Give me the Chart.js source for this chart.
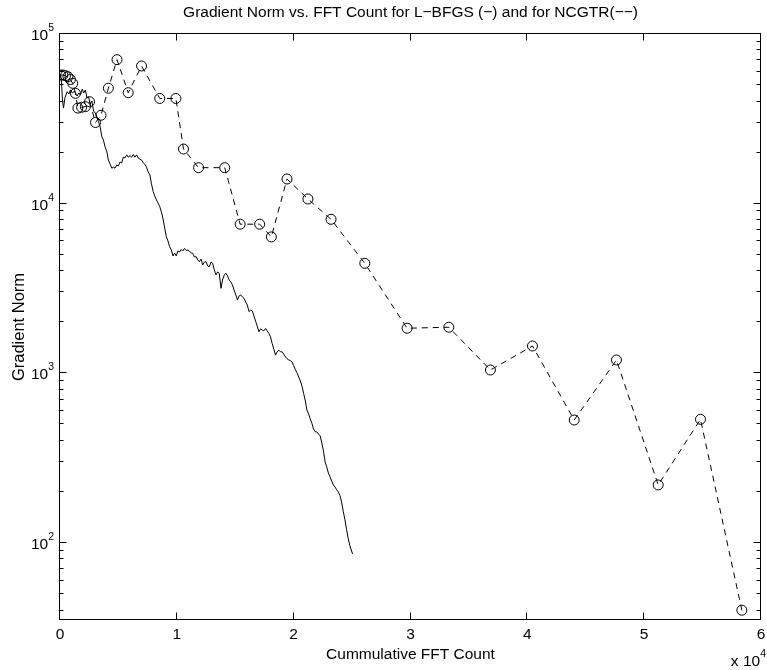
<!DOCTYPE html>
<html>
<head>
<meta charset="utf-8">
<title>Gradient Norm vs. FFT Count</title>
<script src="https://cdn.jsdelivr.net/npm/chart.js@4/dist/chart.umd.min.js"></script>
<style>
  html, body { margin: 0; padding: 0; background: #fff; }
  #wrap { width: 767px; height: 670px; }
</style>
</head>
<body>
<div id="wrap"><canvas id="chart" width="767" height="670"></canvas></div>
<script>
/* ------------------------------- DATA ---------------------------------- */
// L-BFGS (solid line): cumulative FFT count / gradient norm
const lbfgsX = [
  40, 130, 210, 300, 420, 610, 760, 890, 1060, 1230, 1460, 1610, 1740, 1910, 2020, 2170,
  2310, 2450, 2590, 2730, 2870, 3020, 3160, 3300, 3440, 3580, 3720, 3860, 4010, 4140,
  4290, 4430, 4570, 4710, 4860, 4990, 5140, 5280, 5420, 5560, 5710, 5840, 5990, 6130,
  6270, 6410, 6560, 6690, 6840, 6980, 7120, 7260, 7410, 7540, 7690, 7830, 7970, 8110,
  8260, 8390, 8540, 8680, 8820, 8960, 9100, 9240, 9380, 9530, 9670, 9810, 9950, 10090,
  10230, 10380, 10510, 10660, 10800, 10940, 11080, 11230, 11360, 11510, 11650, 11790,
  11930, 12080, 12210, 12360, 12500, 12640, 12780, 12930, 13060, 13210, 13350, 13490,
  13630, 13780, 13910, 14060, 14200, 14340, 14480, 14620, 14760, 14900, 15050, 15190,
  15330, 15470, 15610, 15750, 15900, 16030, 16180, 16320, 16460, 16600, 16750, 16880,
  17030, 17170, 17310, 17450, 17600, 17730, 17880, 18020, 18160, 18300, 18450, 18580,
  18730, 18870, 19010, 19150, 19300, 19430, 19580, 19720, 19860, 20000, 20150, 20280,
  20430, 20570, 20710, 20850, 21000, 21130, 21280, 21420, 21560, 21700, 21840, 21980,
  22130, 22270, 22410, 22550, 22690, 22830, 22970, 23120, 23250, 23400, 23540, 23680,
  23820, 23970, 24100, 24250, 24390, 24530, 24670, 24820, 24930, 25040
];
const lbfgsY = [
  57300, 52100, 40800, 36600, 42000, 45700, 44300, 46800, 44900, 46100, 43100, 44900, 43700, 47400, 44900, 46800,
  42000, 42500, 38700, 40300, 35200, 34200, 32400, 30400, 28300, 24800, 23700, 21600, 20200, 18100,
  17100, 16200, 16400, 16200, 16900, 16700, 17600, 17400, 18800, 18600, 19400, 18800, 19200, 18800,
  19500, 18800, 19400, 18600, 18300, 18100, 17400, 17100, 16400, 15400, 14800, 13100, 11800, 11100,
  10500, 10100, 9600, 8940, 8130, 7190, 6390, 6030, 5580, 5340, 4920, 5120, 4920, 5260,
  5190, 5370, 5260, 5450, 5300, 5340, 5260, 5120, 5100, 4850, 4870, 4660,
  4550, 4720, 4350, 4530, 4550, 4300, 4250, 4530, 4460, 4070, 3800, 3960,
  3890, 3170, 3550, 3800, 3890, 3750, 3550, 3460, 3320, 3100, 2900, 2710,
  2860, 2900, 2820, 2770, 2630, 2530, 2310, 2360, 2330, 2180, 2020, 1900,
  1760, 1830, 1800, 1780, 1840, 1780, 1720, 1640, 1500, 1390, 1280, 1340,
  1370, 1340, 1340, 1300, 1250, 1220, 1200, 1190, 1170, 1110, 1050, 1010,
  952, 902, 843, 763, 688, 609, 577, 539, 508, 470, 453, 452,
  439, 428, 389, 349, 301, 281, 259, 245, 232, 220, 214, 206,
  200, 190, 175, 153, 137, 120, 106, 96.1, 91, 86.3
];

// NCGTR (dashed line with circles)
const ncgtrX = [
  40, 250, 470, 680, 890, 1090, 1320, 1530, 1850, 2170, 2530, 3040, 3510, 4140, 4880,
  5840, 6980, 8540, 9920, 10570, 11860, 14100, 15420, 17090, 18090, 19430, 21220,
  23200, 26090, 29710, 33280, 36840, 40440, 44010, 47630, 51200, 54820, 58360
];
const ncgtrY = [
  57300, 57300, 56800, 56000, 53900, 51200, 44700, 36600, 37000, 37300, 39900, 30100, 33200, 47900, 70600,
  45100, 64800, 41700, 41700, 21000, 16300, 16300, 7570, 7570, 6370, 13980, 10660,
  8090, 4450, 1845, 1870, 1047, 1450, 531, 1199, 220, 536, 40.2
];

// axis ticks
const xTicks = [0, 1, 2, 3, 4, 5, 6];          // in units of 10^4
const yDecades = [2, 3, 4, 5];                  // 10^k
const yMinorMult = [2, 3, 4, 5, 6, 7, 8, 9];

/* ------------------------------ STYLE ---------------------------------- */
(() => {
  const FONT = "'Liberation Sans', Arial, Helvetica, sans-serif";
  const TEXT_FONT = "15.5px " + FONT;
  const YLABEL_FONT = "16.5px " + FONT;
  const SUP_FONT = "10.5px " + FONT;
  const MAJOR = 7, MINOR = 4;

  const toPoints = (xs, ys) => xs.map((v, i) => ({ x: v, y: ys[i] }));

  // MATLAB-like frame, inward ticks and labels, drawn from the chart scales
  const matlabAxes = {
    id: "matlabAxes",
    beforeDraw(chart) {
      const { ctx, width, height } = chart;
      ctx.save();
      ctx.fillStyle = "#fff";
      ctx.fillRect(0, 0, width, height);
      ctx.restore();
    },
    afterDraw(chart) {
      const { ctx, chartArea: a, scales } = chart;
      const x = scales.x, y = scales.y;
      const L = Math.round(a.left) - 0.5, R = Math.round(a.right) - 0.5;
      const T = Math.round(a.top) - 0.5, B = Math.round(a.bottom) - 0.5;

      ctx.save();
      ctx.strokeStyle = "#000";
      ctx.fillStyle = "#000";
      ctx.lineWidth = 1;
      ctx.strokeRect(L, T, R - L, B - T);

      ctx.beginPath();
      // x ticks (bottom + top)
      xTicks.forEach(t => {
        const px = Math.round(x.getPixelForValue(t * 1e4)) - 0.5;
        ctx.moveTo(px, B); ctx.lineTo(px, B - MAJOR);
        ctx.moveTo(px, T); ctx.lineTo(px, T + MAJOR);
      });
      // y ticks (left + right), major and minor
      yDecades.forEach(k => {
        const py = Math.round(y.getPixelForValue(Math.pow(10, k))) - 0.5;
        ctx.moveTo(L, py); ctx.lineTo(L + MAJOR, py);
        ctx.moveTo(R, py); ctx.lineTo(R - MAJOR, py);
      });
      for (let k = 1; k <= 4; k++) {
        yMinorMult.forEach(m => {
          const v = m * Math.pow(10, k);
          if (v < y.min || v > y.max) return;
          const py = Math.round(y.getPixelForValue(v)) - 0.5;
          ctx.moveTo(L, py); ctx.lineTo(L + MINOR, py);
          ctx.moveTo(R, py); ctx.lineTo(R - MINOR, py);
        });
      }
      ctx.stroke();

      // x tick labels
      ctx.font = TEXT_FONT;
      ctx.textAlign = "center";
      ctx.textBaseline = "middle";
      xTicks.forEach(t => {
        ctx.fillText(String(t), x.getPixelForValue(t * 1e4), a.bottom + 15);
      });

      // y tick labels: 10 with superscript exponent
      ctx.textBaseline = "alphabetic";
      ctx.textAlign = "right";
      yDecades.forEach(k => {
        const py = y.getPixelForValue(Math.pow(10, k));
        ctx.font = SUP_FONT;
        const sw = ctx.measureText(String(k)).width;
        ctx.fillText(String(k), a.left - 6, py - 3);
        ctx.font = TEXT_FONT;
        ctx.fillText("10", a.left - 6 - sw, py + 6);
      });

      // titles
      ctx.font = TEXT_FONT;
      ctx.textAlign = "center";
      ctx.textBaseline = "middle";
      const cx = (a.left + a.right) / 2;
      ctx.fillText("Gradient Norm vs. FFT Count for L\u2212BFGS (\u2212) and for NCGTR(\u2212\u2212)", cx, 13);
      ctx.fillText("Cummulative FFT Count", cx, 655);

      ctx.save();
      ctx.font = YLABEL_FONT;
      ctx.translate(19, (a.top + a.bottom) / 2);
      ctx.rotate(-Math.PI / 2);
      ctx.fillText("Gradient Norm", 0, 0);
      ctx.restore();

      // x 10^4 multiplier
      ctx.textAlign = "right";
      ctx.textBaseline = "alphabetic";
      ctx.font = SUP_FONT;
      const ew = ctx.measureText("4").width;
      ctx.fillText("4", 766, 657);
      ctx.font = TEXT_FONT;
      ctx.fillText("x 10", 766 - ew, 666);

      ctx.restore();
    }
  };

  new Chart(document.getElementById("chart").getContext("2d"), {
    type: "scatter",
    data: {
      datasets: [
        {
          label: "L-BFGS",
          data: toPoints(lbfgsX, lbfgsY),
          showLine: true,
          borderColor: "#000",
          borderWidth: 1,
          pointRadius: 0,
          tension: 0,
        },
        {
          label: "NCGTR",
          data: toPoints(ncgtrX, ncgtrY),
          showLine: true,
          borderColor: "#000",
          borderWidth: 1,
          borderDash: [6, 5],
          pointRadius: 5,
          pointStyle: "circle",
          pointBorderColor: "#000",
          pointBackgroundColor: "rgba(0,0,0,0)",
          pointBorderWidth: 1,
          tension: 0,
        },
      ],
    },
    options: {
      responsive: false,
      animation: false,
      devicePixelRatio: 1,
      layout: { padding: { left: 60, right: 1, top: 34, bottom: 50 } },
      plugins: { legend: { display: false }, tooltip: { enabled: false } },
      scales: {
        x: { type: "linear", display: false, min: 0, max: 60000, bounds: "data" },
        y: { type: "logarithmic", display: false, min: 35.2, max: 100000, bounds: "data" },
      },
    },
    plugins: [matlabAxes],
  });
})();
</script>
</body>
</html>
